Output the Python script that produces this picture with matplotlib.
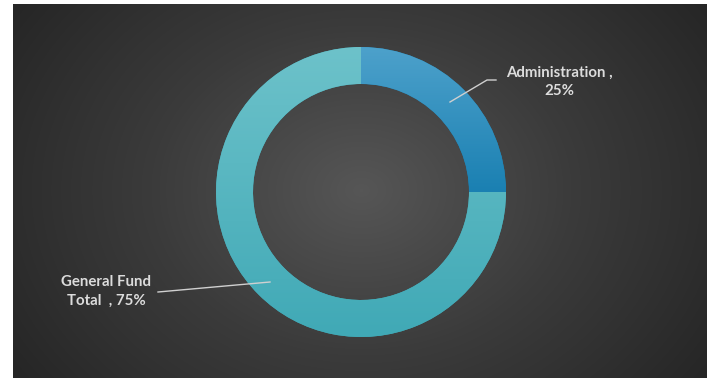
import numpy as np
import matplotlib.pyplot as plt
from matplotlib.colors import LinearSegmentedColormap

# Budget split shown in the donut
labels = ["Administration ,\n25%", "General Fund\nTotal  , 75%"]
shares = [25, 75]
colors_top = ["#4da1cb", "#6dc2ca"]
colors_bottom = ["#1a80b2", "#40a9b6"]

W, H = 714, 380
fig = plt.figure(figsize=(W / 100, H / 100), dpi=100, facecolor="white")

# Dark panel with a radial glow in the middle
bg = fig.add_axes([13 / W, 2 / H, (707 - 13) / W, (376 - 2) / H])
bg.set_axis_off()
yy, xx = np.mgrid[0:374, 0:694]
cx, cy = 361 - 13, 190 - 4
dist = np.sqrt(((xx - cx) / 420) ** 2 + ((yy - cy) / 330) ** 2)
dist = np.clip(dist, 0, 1)
bg_cmap = LinearSegmentedColormap.from_list("bg", ["#565656", "#3b3b3b", "#262626"])
bg.imshow(dist, cmap=bg_cmap, aspect="auto", interpolation="bilinear")

# Main axes in pixel units (y measured upwards)
ax = fig.add_axes([0, 0, 1, 1])
ax.set_xlim(0, W)
ax.set_ylim(0, H)
ax.set_axis_off()
ax.patch.set_alpha(0)

center = (361, H - 192)
radius = 145
wedges, _ = ax.pie(shares, startangle=90, counterclock=False, center=center,
                   radius=radius, colors=colors_bottom,
                   wedgeprops=dict(width=radius - 108, linewidth=0))
ax.set_xlim(0, W)
ax.set_ylim(0, H)

# Vertical colour gradient inside each wedge, over the wedge's own height
for w, ctop, cbot in zip(wedges, colors_top, colors_bottom):
    box = w.get_path().get_extents()
    cm = LinearSegmentedColormap.from_list("g", [cbot, ctop])
    grad = np.linspace(0, 1, 256).reshape(-1, 1)
    im = ax.imshow(grad, cmap=cm, origin="lower", aspect="auto",
                   extent=[box.x0, box.x1, box.y0, box.y1],
                   interpolation="bilinear", zorder=2)
    im.set_clip_path(w)
ax.set_xlim(0, W)
ax.set_ylim(0, H)

# Leader lines and labels
txt = dict(color="#dcdcdc", fontsize=10.8, family="Lato", fontweight="bold",
           ha="center", va="center", linespacing=1.45)
ax.plot([450, 487, 496], [H - 102, H - 80, H - 80], color="#d0d0d0", lw=1, zorder=3)
ax.text(559, H - 82, labels[0], **txt)
ax.plot([158, 270], [H - 292, H - 282], color="#d0d0d0", lw=1, zorder=3)
ax.text(106, H - 291, labels[1], **txt)

fig.savefig("out.png", dpi=100, facecolor="white")
